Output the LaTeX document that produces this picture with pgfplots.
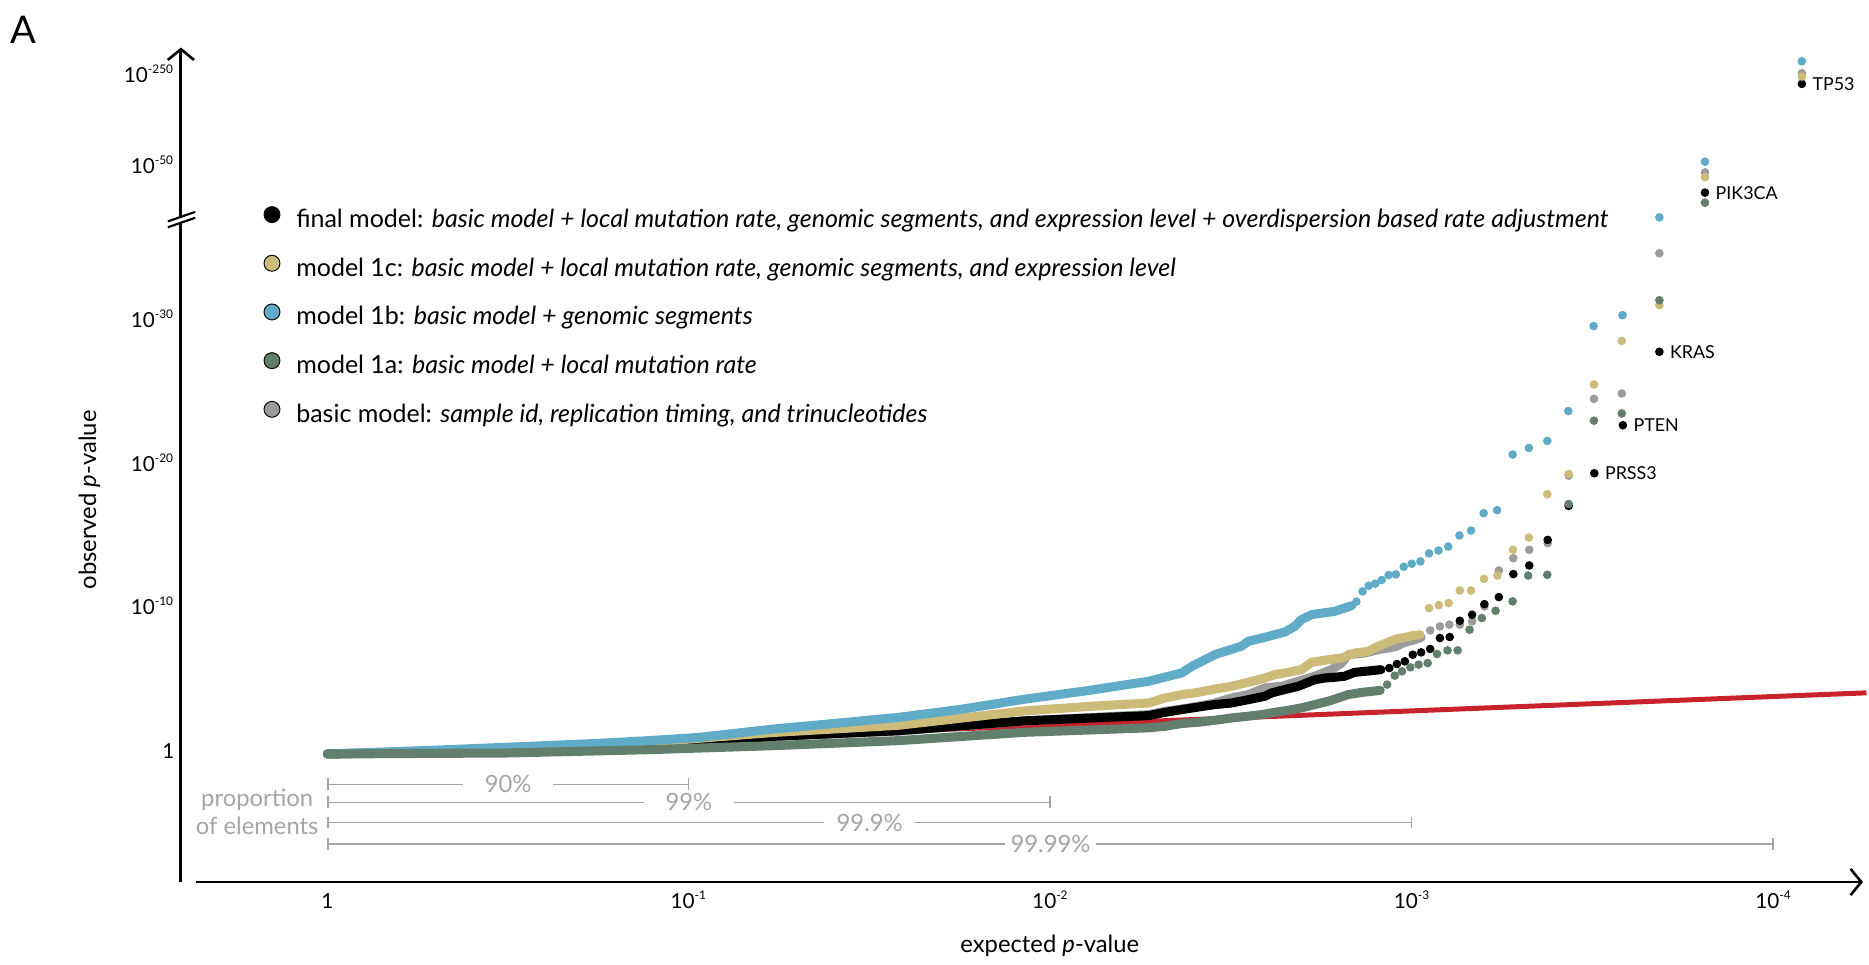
\documentclass[border=0pt]{standalone}
\usepackage{fontspec}
\setmainfont{Lato}
\usepackage{pgfplots}
\usepackage{pgfplotstable}
\pgfplotsset{compat=1.18}
\usetikzlibrary{arrows.meta}

\definecolor{cfinal}{RGB}{0,0,0}
\definecolor{cmc}{RGB}{205,187,121}
\definecolor{cmb}{RGB}{96,171,199}
\definecolor{cma}{RGB}{98,126,109}
\definecolor{cbasic}{RGB}{155,155,155}
\definecolor{cnull}{RGB}{200,35,45}
\definecolor{cprop}{RGB}{165,165,165}

% x: -log10(expected p); y: -log10(observed p), upper band (above the break) compressed
\pgfplotstableread{
x y
0 0
0.5 0.22
0.89 0.58
1.235 1.20
1.58 1.60
1.93 2.30
2.271 2.74
2.317 2.97
2.363 3.13
2.409 3.32
2.455 3.55
2.501 3.90
2.547 4.13
2.593 4.60
2.639 4.71
2.685 5.06
2.731 5.41
2.777 5.87
2.805 6.33
2.823 6.91
2.869 7.03
2.906 7.26
2.933 7.37
2.956 7.49
2.979 7.77
3.000 7.90
3.025 8.11
}\basicband
\pgfplotstableread{
x y
3.050 8.60
3.077 8.88
3.103 9.00
3.132 9.00
3.166 9.23
3.200 10.27
3.240 12.77
3.280 13.63
3.324 14.21
3.375 14.67
3.433 19.37
3.503 24.72
3.580 25.09
3.684 34.85
3.810 40.48
4.078 47.38
}\basictail
\pgfplotstableread{
x y
0 0
0.5 0.26
0.89 0.62
1.03 0.78
1.235 1.23
1.58 1.62
1.93 2.31
2.271 2.67
2.317 2.90
2.363 3.09
2.409 3.27
2.455 3.44
2.501 3.55
2.547 3.78
2.593 4.02
2.612 4.25
2.639 4.43
2.685 4.71
2.713 4.99
2.731 5.17
2.759 5.29
2.786 5.34
2.813 5.41
2.841 5.68
2.868 5.75
2.896 5.82
2.914 5.87
}\finalband
\pgfplotstableread{
x y
2.937 5.98
2.958 6.26
2.980 6.45
3.002 6.91
3.025 7.07
3.050 7.31
3.077 8.07
3.104 8.14
3.132 9.27
3.166 9.69
3.200 10.43
3.240 10.92
3.280 12.52
3.324 13.12
3.375 14.90
3.433 17.27
3.504 19.54
3.583 22.88
3.684 27.99
3.810 39.07
4.078 46.64
}\finaltail
\pgfplotstableread{
x y
0 0
0.5 0.36
0.89 0.82
1.235 1.50
1.58 2.00
1.93 3.00
2.10 3.30
2.271 3.55
2.317 3.90
2.363 4.13
2.409 4.29
2.455 4.52
2.501 4.71
2.547 4.99
2.593 5.29
2.620 5.52
2.657 5.68
2.694 5.87
2.722 6.38
2.768 6.56
2.805 6.68
2.841 7.03
2.878 7.14
2.906 7.49
2.933 7.77
2.956 8.00
2.979 8.11
3.000 8.23
3.022 8.30
}\mcband
\pgfplotstableread{
x y
3.047 10.15
3.074 10.36
3.101 10.50
3.132 11.38
3.163 11.38
3.199 12.19
3.236 12.42
3.279 14.21
3.323 15.06
3.374 18.08
3.433 19.49
3.503 25.72
3.580 28.75
3.684 31.24
3.810 40.15
4.078 47.15
}\mctail
\pgfplotstableread{
x y
0 0
0.25 0.22
0.5 0.47
0.75 0.74
0.89 0.93
1.03 1.16
1.235 1.74
1.40 2.12
1.58 2.55
1.75 3.10
1.93 3.82
2.10 4.40
2.271 5.06
2.363 5.64
2.391 6.10
2.455 6.92
2.528 7.50
2.547 7.84
2.593 8.12
2.648 8.49
2.676 8.89
2.694 9.35
2.722 9.70
2.786 9.93
2.833 10.32
}\mbband
\pgfplotstableread{
x y
2.846 10.60
2.863 11.32
2.880 11.71
2.898 11.85
2.916 12.11
2.935 12.45
2.955 12.50
2.977 13.03
2.999 13.24
3.023 13.40
3.047 13.96
3.073 14.16
3.100 14.44
3.131 15.21
3.163 15.55
3.198 16.76
3.235 16.97
3.278 20.84
3.323 21.30
3.374 21.79
3.432 23.87
3.502 29.78
3.582 30.54
3.684 37.35
3.810 41.22
4.078 48.21
}\mbtail
\pgfplotstableread{
x y
0 0
0.5 0.07
0.89 0.30
1.235 0.58
1.58 0.93
1.93 1.51
2.271 1.82
2.317 1.93
2.363 2.12
2.409 2.21
2.455 2.35
2.501 2.51
2.547 2.63
2.584 2.74
2.620 2.90
2.657 3.04
2.694 3.21
2.731 3.44
2.768 3.67
2.796 3.90
2.823 4.13
2.862 4.29
2.889 4.36
2.912 4.43
}\maband
\pgfplotstableread{
x y
2.931 4.83
2.952 5.45
2.972 5.75
2.995 6.03
3.018 6.22
3.043 6.33
3.069 6.96
3.098 7.21
3.126 7.21
3.159 8.65
3.193 9.46
3.231 9.97
3.278 10.62
3.321 12.42
3.374 12.47
3.433 17.40
3.503 23.20
3.580 23.70
3.684 31.58
3.810 38.37
}\matail

\newcommand{\tenpow}[1]{10\textsuperscript{\fontsize{5}{6}\selectfont #1}}

\pgfplotsset{
  band/.style={line width=3.8pt, line cap=round, line join=round, forget plot},
  tail/.style={only marks, mark=*, mark size=1.6pt, color=#1,
    mark options={draw=none, fill=#1}, forget plot},
}

\begin{document}
\begin{tikzpicture}
\begin{axis}[
  scale only axis, width=784pt, height=404.5pt,
  xmin=-0.90535, xmax=4.25679, ymin=-14.548, ymax=52.477,
  clip=false, axis line style={draw=none}, xtick=\empty, ytick=\empty,
  legend cell align=left,
  legend image code/.code={\fill[#1] (0pt,2.7pt) circle (3.35pt); \path (10pt,0pt);},
  legend style={at={(axis cs:-0.1765,38.13)}, anchor=north west, draw=none, fill=none,
    inner sep=0pt, outer sep=0pt, row sep=8.9pt, column sep=0pt,
    font=\fontsize{10.5}{12.5}\selectfont,
    nodes={inner sep=0pt, text height=8pt, text depth=2.6pt}},
]
% expected (null) line
\addplot[cnull, line width=2.1pt, forget plot] coordinates {(0,0) (4.25679,4.25679)};

\addplot[cbasic, band] table {\basicband};
\addplot[tail=cbasic] table {\basictail};
\addplot[cfinal, band] table {\finalband};
\addplot[tail=cfinal] table {\finaltail};
\addplot[cmc, band] table {\mcband};
\addplot[tail=cmc] table {\mctail};
\addplot[cmb, band] table {\mbband};
\addplot[tail=cmb] table {\mbtail};
\addplot[cma, band] table {\maband};
\addplot[tail=cma] table {\matail};

\addlegendimage{fill=cfinal}
\addlegendentry{final model: \textit{basic model + local mutation rate, genomic segments, and expression level + overdispersion based rate adjustment}}
\addlegendimage{fill=cmc}
\addlegendentry{model 1c: \textit{basic model + local mutation rate, genomic segments, and expression level}}
\addlegendimage{fill=cmb}
\addlegendentry{model 1b: \textit{basic model + genomic segments}}
\addlegendimage{fill=cma}
\addlegendentry{model 1a: \textit{basic model + local mutation rate}}
\addlegendimage{fill=cbasic}
\addlegendentry{basic model: \textit{sample id, replication timing, and trinucleotides}}

% gene labels
\begin{scope}[every node/.style={anchor=west, inner sep=0pt, xshift=4.3pt, font=\fontsize{7.5}{9}\selectfont}]
\node at (axis cs:4.078,46.64) {TP53};
\node at (axis cs:3.810,39.07) {PIK3CA};
\node at (axis cs:3.684,27.99) {KRAS};
\node at (axis cs:3.583,22.88) {PTEN};
\node at (axis cs:3.504,19.54) {PRSS3};
\end{scope}

% axes
\draw[line width=1.25pt, -{Straight Barb[length=4.5pt, width=11pt, line width=1.1pt]}]
  (axis cs:-0.362,-8.91) -- (axis cs:4.247,-8.91);
\draw[line width=1.25pt] (axis cs:-0.405,-8.91) -- (axis cs:-0.405,36.99);
\draw[line width=1.25pt, -{Straight Barb[length=4.5pt, width=11pt, line width=1.1pt]}]
  (axis cs:-0.405,37.40) -- (axis cs:-0.405,49.17);
\draw[line width=0.9pt] (axis cs:-0.441,36.66) -- (axis cs:-0.3654,37.32);
\draw[line width=0.9pt] (axis cs:-0.441,37.07) -- (axis cs:-0.3654,37.73);

% tick labels
\begin{scope}[every node/.style={inner sep=0pt, font=\fontsize{8.7}{10}\selectfont}]
\node[anchor=base east] at (axis cs:-0.422,-0.3) {1};
\node[anchor=base east] at (axis cs:-0.422,9.68) {\tenpow{-10}};
\node[anchor=base east] at (axis cs:-0.422,19.66) {\tenpow{-20}};
\node[anchor=base east] at (axis cs:-0.422,29.7) {\tenpow{-30}};
\node[anchor=base east] at (axis cs:-0.422,40.38) {\tenpow{-50}};
\node[anchor=base east] at (axis cs:-0.422,46.76) {\tenpow{-250}};
\node[anchor=base] at (axis cs:0,-10.74) {1};
\node[anchor=base] at (axis cs:1,-10.74) {\tenpow{-1}};
\node[anchor=base] at (axis cs:2,-10.74) {\tenpow{-2}};
\node[anchor=base] at (axis cs:3,-10.74) {\tenpow{-3}};
\node[anchor=base] at (axis cs:4,-10.74) {\tenpow{-4}};
\end{scope}

% axis titles and panel letter
\node[font=\fontsize{10}{12}\selectfont] at (axis cs:1.998,-13.38) {expected \textit{p}-value};
\node[font=\fontsize{10}{12}\selectfont, rotate=90] at (axis cs:-0.658,17.68) {observed \textit{p}-value};
\node[font=\fontsize{16}{18}\selectfont] at (axis cs:-0.8395,50.41) {A};

% proportion of elements
\begin{scope}[cprop, line width=0.6pt]
\draw[{Bar[width=5pt]}-{Bar[width=5pt]}] (axis cs:0,-2.12) -- (axis cs:1,-2.12);
\draw[{Bar[width=5pt]}-{Bar[width=5pt]}] (axis cs:0,-3.36) -- (axis cs:2,-3.36);
\draw[{Bar[width=5pt]}-{Bar[width=5pt]}] (axis cs:0,-4.77) -- (axis cs:3,-4.77);
\draw[{Bar[width=5pt]}-{Bar[width=5pt]}] (axis cs:0,-6.26) -- (axis cs:4,-6.26);
\end{scope}
\begin{scope}[every node/.style={fill=white, inner sep=0pt, minimum width=38pt, minimum height=7pt, text=cprop, font=\fontsize{10}{12}\selectfont}]
\node at (axis cs:0.5,-2.12) {90\%};
\node at (axis cs:1.0,-3.36) {99\%};
\node at (axis cs:1.5,-4.77) {99.9\%};
\node at (axis cs:2.0,-6.26) {99.99\%};
\end{scope}
\node[align=center, text=cprop, font=\fontsize{10}{11.5}\selectfont] at (axis cs:-0.194,-4.03) {proportion\\of elements};
\end{axis}
\end{tikzpicture}
\end{document}
